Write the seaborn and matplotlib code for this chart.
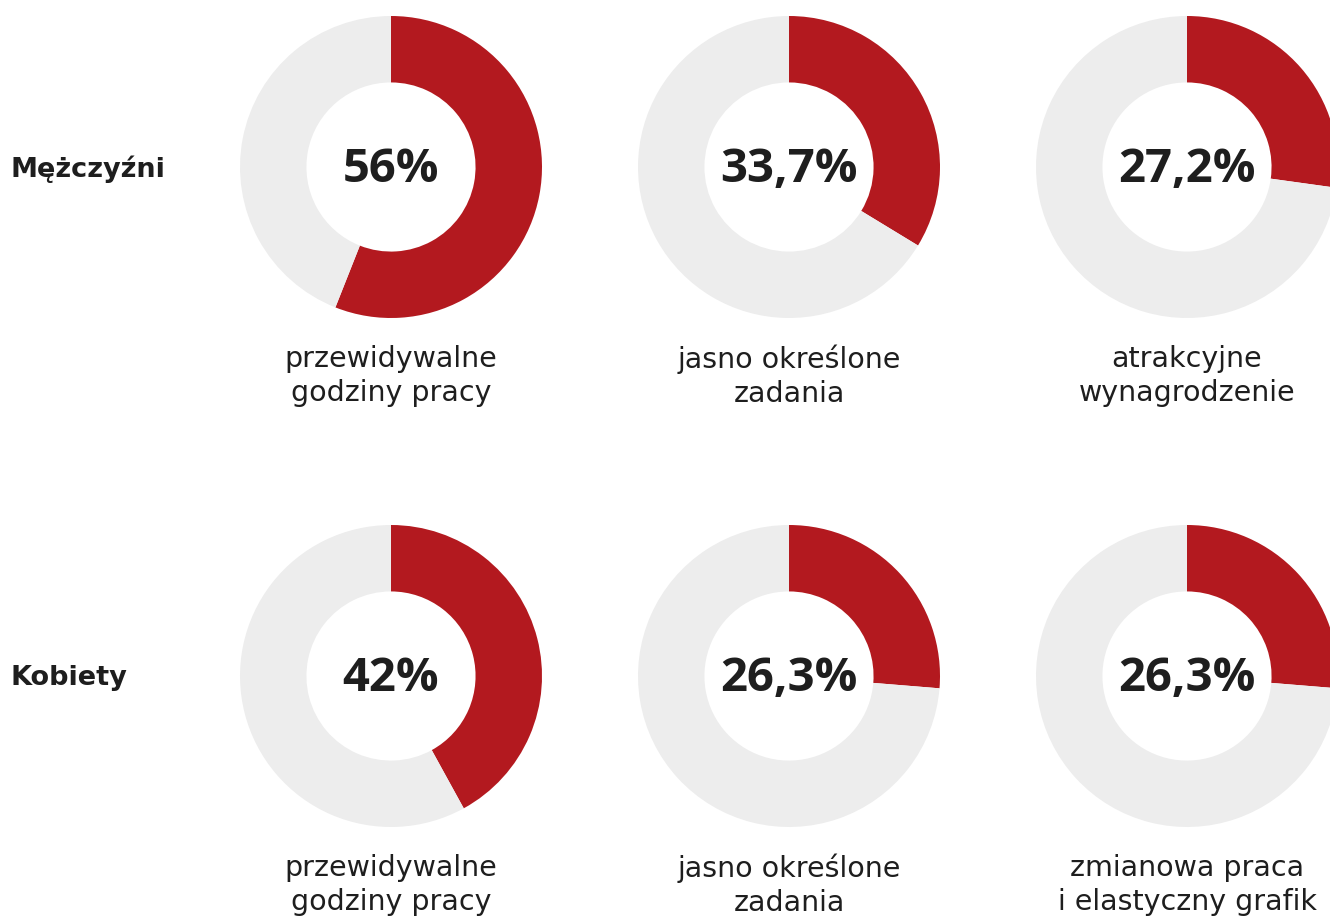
import seaborn as sns
import matplotlib.pyplot as plt

sns.set_theme(style="white")

# data
groups = ["Mężczyźni", "Kobiety"]
labels_men = ["przewidywalne\ngodziny pracy", "jasno określone\nzadania", "atrakcyjne\nwynagrodzenie"]
labels_women = ["przewidywalne\ngodziny pracy", "jasno określone\nzadania", "zmianowa praca\ni elastyczny grafik"]
values_men = [56, 33.7, 27.2]
values_women = [42, 26.3, 26.3]

RED = "#b3191f"
GREY = "#ededed"
TXT = "#1e1e1e"

W, H = 1330, 917
fig = plt.figure(figsize=(W / 100, H / 100), dpi=100)
fig.patch.set_facecolor("white")

col_x = [391, 789, 1187]
row_y = [167, 676]
R = 151

rows = [(values_men, labels_men), (values_women, labels_women)]
for r, (vals, labs) in enumerate(rows):
    cy = row_y[r]
    fig.text(11 / W, 1 - (cy - 1) / H, groups[r], ha="left", va="center_baseline",
             fontsize=19.5, fontweight="bold", color=TXT, family="DejaVu Sans")
    for c, (v, lab) in enumerate(zip(vals, labs)):
        cx = col_x[c]
        ax = fig.add_axes([(cx - R) / W, 1 - (cy + R) / H, 2 * R / W, 2 * R / H])
        ax.pie([v, 100 - v], colors=[RED, GREY], startangle=90, counterclock=False,
               radius=1, wedgeprops=dict(width=0.44, linewidth=0))
        ax.set_xlim(-1, 1)
        ax.set_ylim(-1, 1)
        ax.set_aspect("equal")
        ax.axis("off")
        pct = f"{v:g}".replace(".", ",") + "%"
        ax.text(0, 0.02, pct, ha="center", va="center_baseline", fontsize=34, fontweight="bold",
                fontstretch="normal", color=TXT, family="Open Sans")
        fig.text(cx / W, 1 - (cy + 209) / H, lab, ha="center", va="center",
                 fontsize=20.5, color=TXT, family="DejaVu Sans", linespacing=1.27)

fig.savefig("out.png", dpi=100, facecolor="white")
